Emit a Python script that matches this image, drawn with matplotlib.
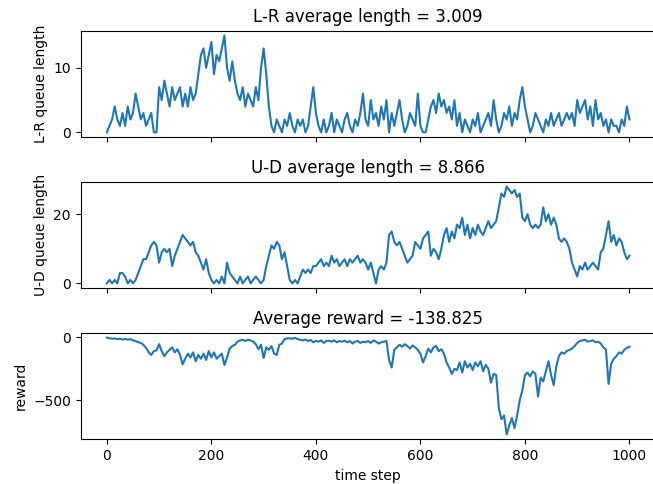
import numpy as np
import matplotlib
matplotlib.use("Agg")
import matplotlib.pyplot as plt

# time steps (sampled every 5 steps)
time_step = np.arange(0, 1001, 5)

# L-R queue length
lr_queue = [0, 1, 2, 4, 2, 1, 3, 1, 4, 2,
            3, 6, 4, 2, 3, 1, 2, 3, 0, 0,
            7, 5, 8, 6, 4, 7, 5, 6, 7, 4,
            6, 4, 7, 5, 6, 9, 12, 13, 10, 12,
            14, 9, 12, 11, 13, 15, 10, 8, 11, 8,
            6, 5, 7, 4, 6, 5, 4, 7, 5, 10,
            13, 9, 4, 1, 0, 2, 1, 0, 2, 1,
            3, 1, 0, 2, 1, 2, 0, 1, 4, 7,
            3, 1, 0, 2, 0, 1, 3, 0, 2, 1,
            0, 2, 3, 1, 0, 2, 1, 3, 6, 2,
            1, 5, 2, 3, 1, 4, 2, 5, 0, 3,
            1, 3, 5, 2, 0, 1, 3, 2, 1, 6,
            1, 0, 0, 2, 4, 5, 3, 6, 4, 5,
            3, 4, 2, 5, 1, 3, 0, 2, 1, 0,
            2, 1, 3, 0, 1, 2, 3, 1, 5, 2,
            0, 1, 3, 2, 4, 1, 3, 2, 5, 7,
            4, 2, 0, 1, 3, 2, 1, 0, 2, 1,
            3, 1, 2, 3, 1, 2, 3, 2, 3, 1,
            5, 3, 4, 5, 2, 4, 1, 5, 2, 3,
            1, 2, 0, 2, 1, 1, 0, 2, 1, 4,
            2]

# U-D queue length
ud_queue = [0, 1, 0, 1, 0, 3, 3, 2, 0, 1,
            0, 1, 3, 5, 7, 7, 9, 11, 12, 11,
            6, 9, 10, 9, 10, 5, 8, 10, 12, 14,
            13, 12, 11, 12, 9, 8, 6, 4, 7, 3,
            1, 0, 1, 0, 2, 0, 6, 3, 2, 1,
            0, 2, 0, 1, 2, 0, 1, 2, 1, 0,
            1, 5, 8, 11, 10, 12, 11, 7, 9, 5,
            1, 0, 1, 0, 2, 4, 3, 4, 3, 5,
            5, 6, 7, 5, 6, 5, 8, 6, 7, 5,
            6, 7, 5, 7, 6, 7, 8, 6, 7, 6,
            4, 6, 3, 0, 4, 5, 4, 6, 14, 15,
            12, 11, 12, 10, 8, 6, 7, 8, 12, 11,
            10, 13, 14, 15, 8, 10, 9, 7, 10, 14,
            16, 12, 15, 13, 17, 16, 19, 14, 17, 13,
            16, 14, 17, 15, 14, 16, 18, 16, 17, 18,
            22, 26, 25, 28, 27, 26, 27, 25, 26, 19,
            18, 20, 17, 16, 17, 16, 17, 22, 18, 20,
            17, 19, 17, 13, 12, 13, 12, 10, 6, 4,
            2, 5, 4, 6, 4, 5, 6, 5, 4, 9,
            10, 14, 18, 12, 14, 11, 13, 12, 9, 7,
            8]

# reward
reward = [-3, -8, -12, -10, -15, -12, -18, -14, -20, -15,
          -25, -30, -40, -45, -60, -85, -120, -140, -110, -105,
          -55, -110, -150, -120, -100, -80, -120, -95, -140, -215,
          -170, -130, -160, -120, -190, -140, -170, -130, -180, -110,
          -160, -120, -170, -150, -130, -220, -160, -90, -70, -60,
          -35, -25, -20, -30, -20, -25, -35, -55, -95, -60,
          -165, -80, -100, -70, -130, -140, -60, -50, -15, -10,
          -8, -12, -5, -15, -20, -25, -18, -30, -22, -40,
          -30, -35, -25, -45, -30, -28, -35, -25, -40, -30,
          -35, -28, -40, -30, -50, -35, -30, -45, -35, -40,
          -30, -45, -25, -35, -50, -40, -35, -30, -180, -240,
          -100, -80, -60, -75, -55, -70, -90, -65, -80, -100,
          -130, -200, -150, -90, -120, -80, -70, -110, -95, -130,
          -200, -240, -290, -250, -260, -200, -280, -190, -240, -210,
          -260, -200, -230, -190, -270, -220, -250, -360, -290, -300,
          -560, -650, -620, -770, -700, -640, -720, -620, -500, -420,
          -300, -280, -310, -270, -290, -470, -320, -350, -270, -190,
          -300, -380, -230, -150, -120, -130, -110, -100, -90, -70,
          -45, -30, -25, -20, -35, -30, -25, -40, -35, -50,
          -80, -100, -370, -210, -170, -150, -120, -130, -100, -85,
          -75]

fig, axs = plt.subplots(3, 1, sharex=True, figsize=(6.53, 4.84), dpi=100)
fig.subplots_adjust(left=0.1236, right=1.004, bottom=0.0924, top=0.9366, hspace=0.418)

axs[0].plot(time_step, lr_queue)
axs[0].set_title("L-R average length = 3.009")
axs[0].set_ylabel("L-R queue length")

axs[1].plot(time_step, ud_queue)
axs[1].set_title("U-D average length = 8.866")
axs[1].set_ylabel("U-D queue length")

axs[2].plot(time_step, reward)
axs[2].set_title("Average reward = -138.825")
axs[2].set_ylabel("reward")
axs[2].set_xlabel("time step")

fig.savefig("out.png", dpi=100)
